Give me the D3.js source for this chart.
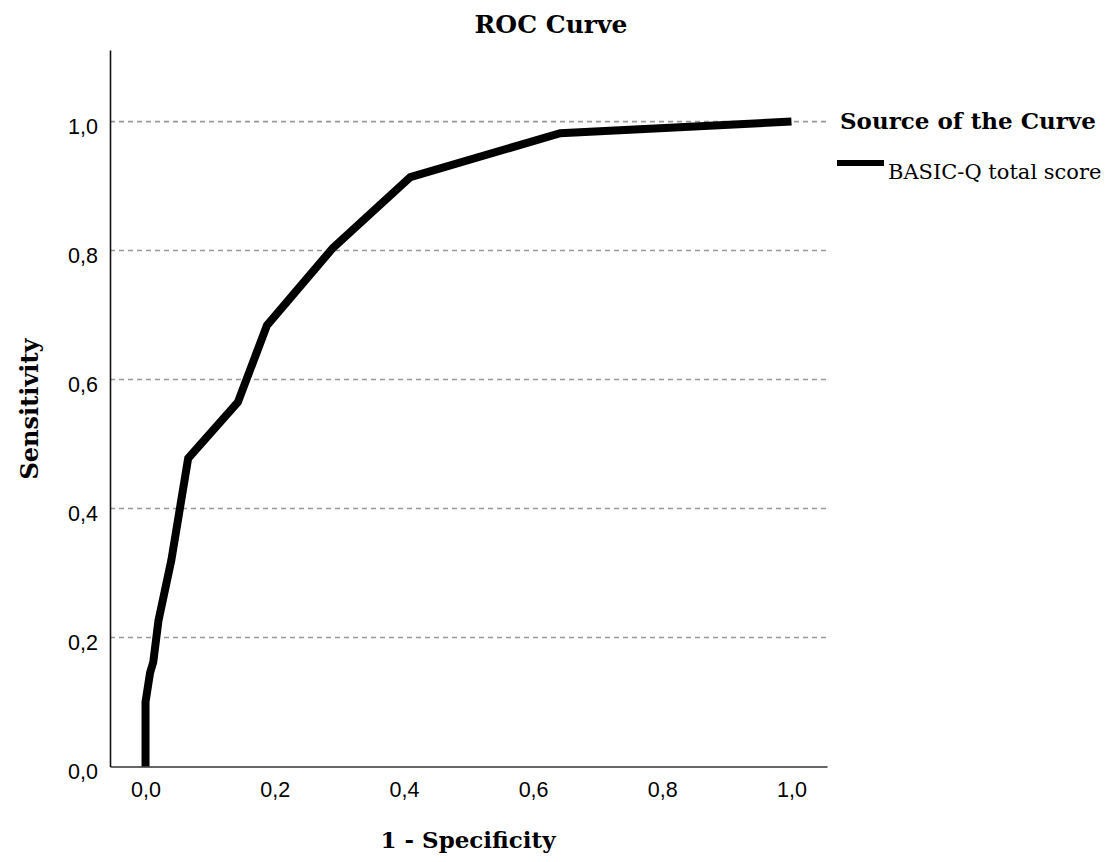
<!DOCTYPE html>
<html>
<head>
<meta charset="utf-8">
<script src="https://cdn.jsdelivr.net/npm/d3@7"></script>
<style>
  body { margin: 0; background: #fff; }
</style>
</head>
<body>
<div class="canvas"></div>
<script>
// ROC points
const fpr = [0, 0, 0.007, 0.012, 0.02, 0.04, 0.066, 0.143, 0.188, 0.29, 0.41, 0.642, 1.0];
const tpr = [0, 0.10, 0.145, 0.162, 0.226, 0.32, 0.478, 0.565, 0.684, 0.804, 0.914, 0.982, 1.0];
const xTicks = [0, 0.2, 0.4, 0.6, 0.8, 1.0];
const yTicks = [0, 0.2, 0.4, 0.6, 0.8, 1.0];
const seriesName = 'BASIC-Q total score';

draw_roc();

function draw_roc() {
    const svg = d3.select('.canvas')
        .append('svg')
        .attr('width', 1110)
        .attr('height', 862);

    const serif = 'DejaVu Serif, serif';
    const sans = 'Liberation Sans, Arial, sans-serif';

    const x = d3.scaleLinear().domain([-0.055, 1.055]).range([110, 827]);
    const y = d3.scaleLinear().domain([0, 1.111]).range([766.5, 50]);

    const fmt = d => d3.format('.1f')(d).replace('.', ',');

    // dashed horizontal gridlines
    svg.append('g')
        .selectAll('line')
        .data(yTicks.filter(d => d > 0))
        .enter().append('line')
        .attr('x1', x.range()[0]).attr('x2', x.range()[1])
        .attr('y1', d => y(d)).attr('y2', d => y(d))
        .attr('stroke', '#999')
        .attr('stroke-width', 1.6)
        .attr('stroke-dasharray', '5,4');

    // x axis
    const xAxis = svg.append('g')
        .attr('transform', `translate(0,${y(0)})`)
        .call(d3.axisBottom(x).tickValues(xTicks).tickSize(0).tickSizeOuter(0).tickFormat(fmt));
    xAxis.select('.domain').attr('stroke', '#666').attr('stroke-width', 2);
    xAxis.selectAll('text')
        .attr('dy', '1.3em')
        .style('font-family', sans)
        .style('font-size', '21.5px')
        .attr('fill', '#000');

    // y axis
    const yAxis = svg.append('g')
        .attr('transform', `translate(${x.range()[0]},0)`)
        .call(d3.axisLeft(y).tickValues(yTicks).tickSize(0).tickSizeOuter(0).tickFormat(fmt));
    yAxis.select('.domain').attr('stroke', '#111').attr('stroke-width', 1.6);
    yAxis.selectAll('text')
        .attr('x', -12)
        .attr('dy', '0.55em')
        .style('font-family', sans)
        .style('font-size', '21.5px')
        .attr('fill', '#000');

    // curve
    const pts = fpr.map((d, i) => [d, tpr[i]]);
    const line = d3.line().x(d => x(d[0])).y(d => y(d[1]));
    svg.append('path')
        .datum(pts)
        .attr('d', line)
        .attr('fill', 'none')
        .attr('stroke', '#000')
        .attr('stroke-width', 8)
        .attr('stroke-linejoin', 'miter');

    // titles
    svg.append('text')
        .attr('x', 551).attr('y', 33)
        .attr('text-anchor', 'middle')
        .style('font-family', serif).style('font-weight', 'bold').style('font-size', '25px')
        .text('ROC Curve');

    svg.append('text')
        .attr('x', 468).attr('y', 848)
        .attr('text-anchor', 'middle')
        .style('font-family', serif).style('font-weight', 'bold').style('font-size', '23px')
        .text('1 - Specificity');

    svg.append('text')
        .attr('transform', 'translate(38,409) rotate(-90)')
        .attr('text-anchor', 'middle')
        .style('font-family', serif).style('font-weight', 'bold').style('font-size', '24px')
        .text('Sensitivity');

    // legend
    svg.append('text')
        .attr('x', 840).attr('y', 129)
        .style('font-family', serif).style('font-weight', 'bold').style('font-size', '23px')
        .text('Source of the Curve');

    svg.append('line')
        .attr('x1', 837).attr('x2', 884)
        .attr('y1', 163).attr('y2', 163)
        .attr('stroke', '#000').attr('stroke-width', 6);

    svg.append('text')
        .attr('x', 888).attr('y', 179)
        .style('font-family', serif).style('font-size', '21px')
        .text(seriesName);
}
</script>
</body>
</html>
